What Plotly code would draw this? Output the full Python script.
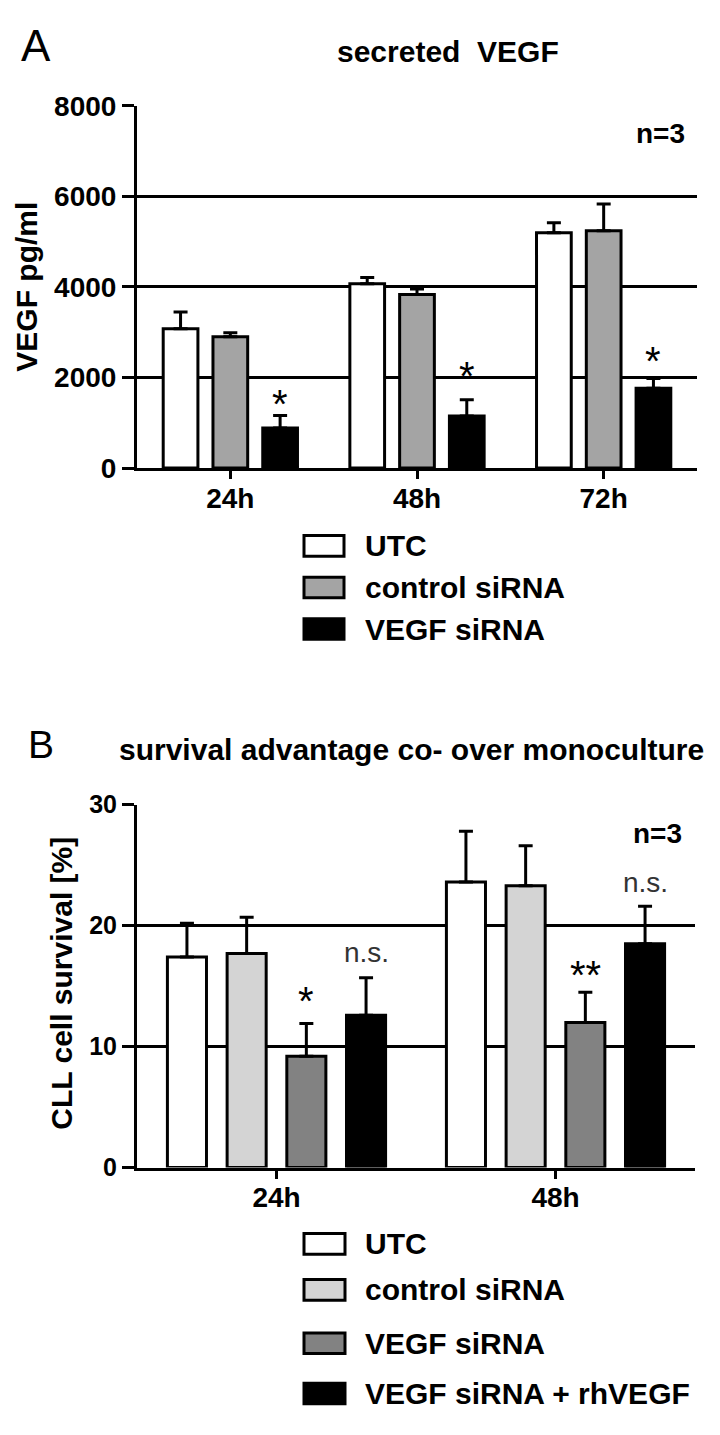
import plotly.graph_objects as go

# ---------------- data ----------------
cats_A = ["24h", "48h", "72h"]
series_A = ["UTC", "control siRNA", "VEGF siRNA"]
utc_A = [3080, 4070, 5200]
ctrl_A = [2900, 3835, 5240]
vegf_A = [885, 1150, 1765]
utc_A_err = [370, 140, 220]
ctrl_A_err = [90, 120, 590]
vegf_A_err = [275, 360, 215]
sig_A_text = ["*", "*", "*"]
sig_A_y = [1614, 2225, 2560]
yticks_A = [0, 2000, 4000, 6000, 8000]

cats_B = ["24h", "48h"]
series_B = ["UTC", "control siRNA", "VEGF siRNA", "VEGF siRNA + rhVEGF"]
utc_B = [17.4, 23.6]
ctrl_B = [17.7, 23.3]
vegf_B = [9.2, 12.0]
rh_B = [12.6, 18.5]
utc_B_err = [2.8, 4.2]
ctrl_B_err = [3.0, 3.3]
vegf_B_err = [2.7, 2.5]
rh_B_err = [3.1, 3.1]
sig_B_vegf_text = ["*", "**"]
sig_B_vegf_y = [14.5, 16.7]
sig_B_rh_text = ["n.s.", "n.s."]
sig_B_rh_y = [17.6, 23.4]
yticks_B = [0, 10, 20, 30]

# ---------------- style ----------------
PAGE_W, PAGE_H = 720, 1435
BODY = 8  # default page body margin around the plot div
W, H = PAGE_W - BODY, PAGE_H - BODY
FONT = "Liberation Sans, Arial, Helvetica, sans-serif"
colors_A = ["#ffffff", "#a4a4a4", "#000000"]
colors_B = ["#ffffff", "#d4d4d4", "#828282", "#000000"]


def px(x):
    return (x - BODY) / W


def py(y):
    return 1 - (y - BODY) / H


fig = go.Figure()


def add_group(vals_list, errs_list, names, colors, group_w, bar_w, xa, ya):
    n = len(vals_list)
    slot = group_w / n
    centers = []
    for j, (vals, errs, name, col) in enumerate(zip(vals_list, errs_list, names, colors)):
        off = -group_w / 2 + j * slot + (slot - bar_w) / 2
        centers.append(-group_w / 2 + (j + 0.5) * slot)
        fig.add_trace(go.Bar(
            x=list(range(len(vals))), y=vals, name=name,
            width=bar_w, offset=off,
            marker=dict(color=col, line=dict(color="black", width=3)),
            error_y=dict(type="data", symmetric=False, array=errs,
                         arrayminus=[0] * len(errs), color="black",
                         thickness=3, width=7),
            xaxis=xa, yaxis=ya, showlegend=False,
        ))
    return centers


cA = add_group([utc_A, ctrl_A, vegf_A], [utc_A_err, ctrl_A_err, vegf_A_err],
               series_A, colors_A, 0.8, 0.186, "x", "y")
cB = add_group([utc_B, ctrl_B, vegf_B, rh_B], [utc_B_err, ctrl_B_err, vegf_B_err, rh_B_err],
               series_B, colors_B, 0.856, 0.14, "x2", "y2")

annotations = []
# significance marks
for i, (t, y) in enumerate(zip(sig_A_text, sig_A_y)):
    annotations.append(dict(x=i + cA[2], y=y, xref="x", yref="y", text=t, showarrow=False,
                            font=dict(family=FONT, size=40, color="black"), yshift=-9))
for i, (t, y) in enumerate(zip(sig_B_vegf_text, sig_B_vegf_y)):
    annotations.append(dict(x=i + cB[2], y=y, xref="x2", yref="y2", text=t, showarrow=False,
                            font=dict(family=FONT, size=40, color="black"), yshift=-9))
for i, (t, y) in enumerate(zip(sig_B_rh_text, sig_B_rh_y)):
    annotations.append(dict(x=i + cB[3], y=y, xref="x2", yref="y2", text=t, showarrow=False,
                            font=dict(family=FONT, size=28, color="#333333"), yshift=2))


def txt(x, y, text, size, bold=True, xanchor="center", angle=0):
    annotations.append(dict(x=px(x), y=py(y), xref="paper", yref="paper", text=text,
                            showarrow=False, xanchor=xanchor, yanchor="middle",
                            textangle=angle,
                            font=dict(family=FONT, size=size, color="black",
                                      weight="bold" if bold else "normal")))


# panel letters, titles, n=3, y titles
txt(36, 31.5, "A", 44, bold=False)
txt(448, 37, "secreted\u00a0 VEGF", 30)
txt(660, 121, "n=3", 28)
txt(27, 277.5, "VEGF pg/ml", 30, angle=-90)

txt(41, 746, "B", 39, bold=False)
txt(411, 751, "survival advantage co- over monoculture", 30)
txt(657, 837, "n=3", 28)
txt(62, 990, "CLL cell survival [%]", 30, angle=-90)

# manual legends
shapes = []
legA_rows = [542.5, 585, 627.5]
for name, col, yc in zip(series_A, colors_A, legA_rows):
    shapes.append(dict(type="rect", xref="paper", yref="paper",
                       x0=px(304), x1=px(344), y0=py(yc - 10.5), y1=py(yc + 10.5),
                       fillcolor=col, line=dict(color="black", width=3)))
    txt(363, yc, name, 30, xanchor="left")
legB_rows = [1256, 1303, 1357.5, 1409]
for name, col, yc in zip(series_B, colors_B, legB_rows):
    shapes.append(dict(type="rect", xref="paper", yref="paper",
                       x0=px(304), x1=px(345), y0=py(yc - 10.5), y1=py(yc + 10.5),
                       fillcolor=col, line=dict(color="black", width=3)))
    txt(363, yc, name, 30, xanchor="left")

tickfont = dict(family=FONT, size=28, color="black", weight="bold")
xcommon = dict(showline=True, linecolor="black", linewidth=3, ticks="outside",
               ticklen=8, tickwidth=3, tickcolor="black", showgrid=False,
               zeroline=False, tickfont=tickfont, ticklabelstandoff=-5)
ycommon = dict(showline=True, linecolor="black", linewidth=3, ticks="outside",
               ticklen=12, tickwidth=3, tickcolor="black", showgrid=True,
               gridcolor="black", gridwidth=3, zeroline=False)

fig.update_layout(
    width=W, height=H,
    margin=dict(l=0, r=0, t=0, b=0),
    paper_bgcolor="white", plot_bgcolor="white",
    showlegend=False,
    barmode="group",
    xaxis=dict(domain=[px(137), px(697)], range=[-0.5, 2.5],
               tickvals=list(range(len(cats_A))), ticktext=cats_A, anchor="y", **xcommon),
    yaxis=dict(domain=[py(463), py(92.7)], range=[0, 8000], tickvals=yticks_A,
               anchor="x", tickfont=tickfont, **ycommon),
    xaxis2=dict(domain=[px(137), px(695)], range=[-0.5, 1.5],
                tickvals=list(range(len(cats_B))), ticktext=cats_B, anchor="y2", **xcommon),
    yaxis2=dict(domain=[py(1178), py(807)], range=[0, 30], tickvals=yticks_B,
                anchor="x2", tickfont=dict(family=FONT, size=25, color="black", weight="bold"),
                **ycommon),
    annotations=annotations,
    shapes=shapes,
)

fig.write_html("out.html")
